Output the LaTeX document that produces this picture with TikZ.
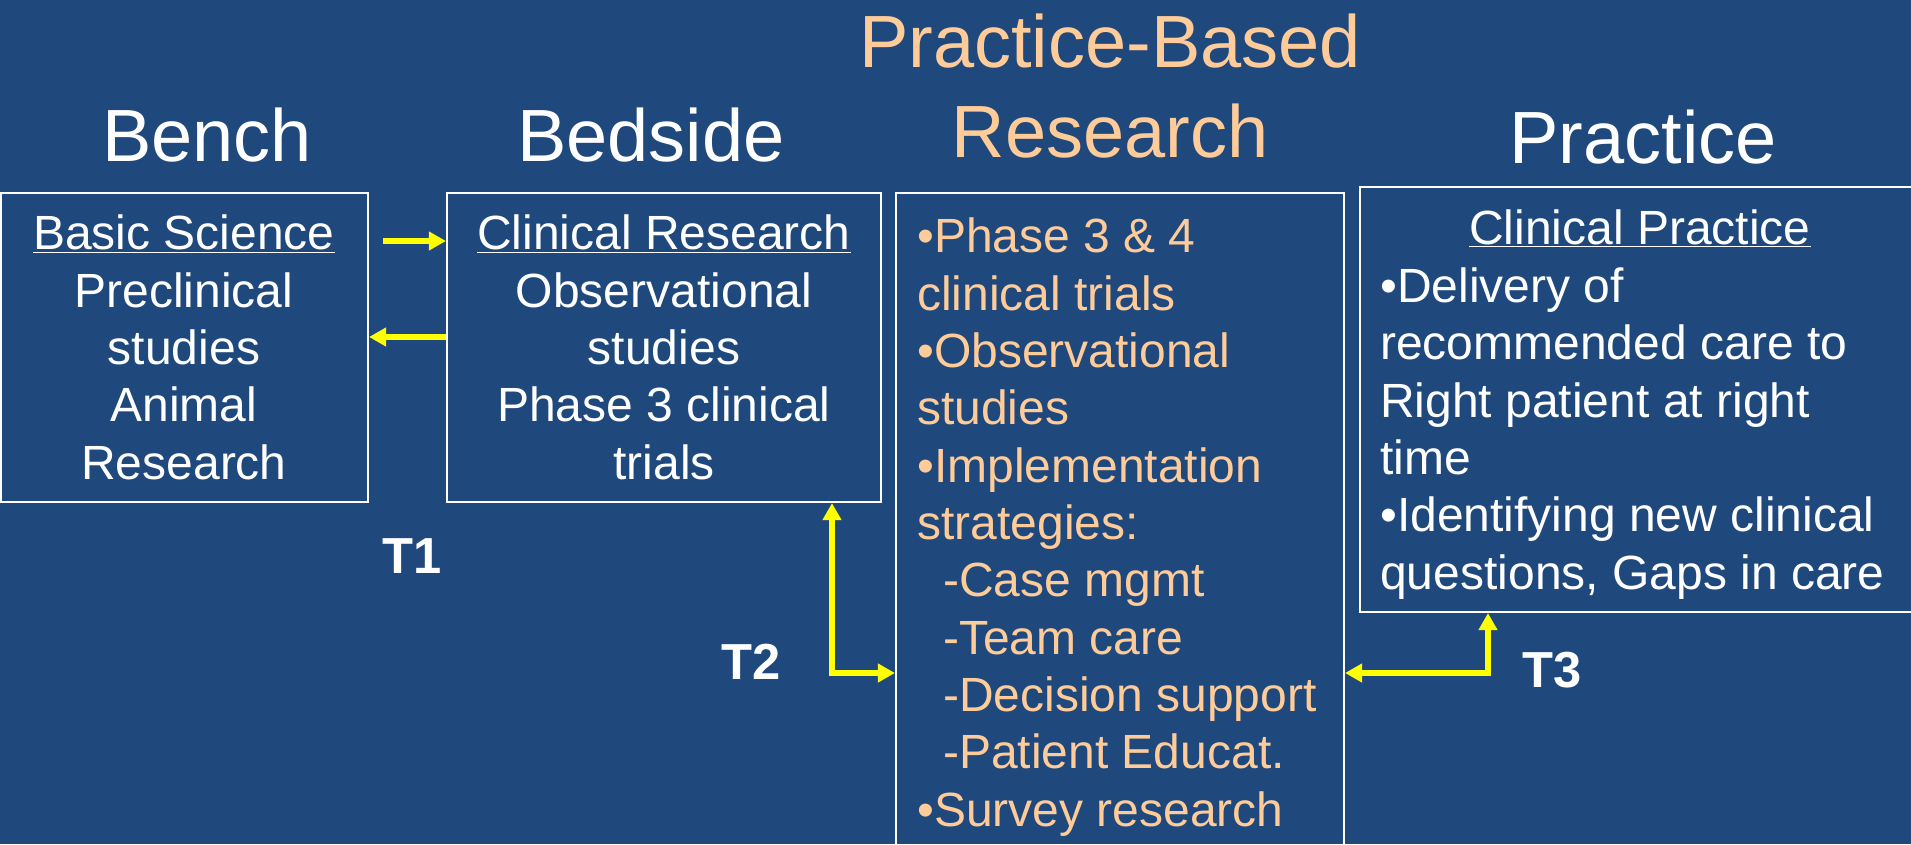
\documentclass[tikz,border=0pt]{standalone}
\usepackage{fontspec}
\setmainfont{Liberation Sans}
\usetikzlibrary{arrows.meta}

\definecolor{slideblue}{RGB}{31,73,125}
\definecolor{peachtext}{RGB}{255,204,153}
\definecolor{arrowyellow}{RGB}{255,255,0}

\tikzset{
  boxframe/.style={draw=white, line width=1.6pt, inner sep=0pt},
  bodytext/.style={inner sep=0pt, font=\fontsize{36}{43}\selectfont},
  headtext/.style={inner sep=0pt, text=white, font=\fontsize{55.5}{67.5}\selectfont},
  tlabel/.style={inner sep=0pt, text=white, font=\fontsize{38}{45}\selectfont\bfseries},
  ytip/.tip={Triangle[length=12.75pt,width=13.5pt]},
  yarrow/.style={draw=arrowyellow, line width=4.5pt, -ytip},
  yarrows/.style={draw=arrowyellow, line width=4.5pt, ytip-ytip},
}

\begin{document}
\begin{tikzpicture}[x=0.75pt,y=0.75pt,yscale=-1,xscale=1]
    \useasboundingbox (0,0) rectangle (1911,844);
    \clip (0,0) rectangle (1911,844);
    \fill [slideblue] (0,0) rectangle (1911,844);

    % Headers
    \draw (207,161) node (benchhead) [headtext, anchor=base] {Bench};
    \draw (651,161) node (bedsidehead) [headtext, anchor=base] {Bedside};
    \draw (1110,157) node (pbrhead) [headtext, anchor=base, align=center, text=peachtext] {Practice-Based\\Research};
    \draw (1643,163) node (practicehead) [headtext, anchor=base] {Practice};

    % Boxes
    \draw (184.5,347.5) node (bench) [boxframe, minimum width=275.25pt, minimum height=231.75pt] {};
    \draw (664,347.5) node (bedside) [boxframe, minimum width=325.5pt, minimum height=231.75pt] {};
    \draw (1120,546.5) node (pbr) [boxframe, minimum width=336pt, minimum height=530.25pt] {};
    \draw (1641,399.5) node (practice) [boxframe, minimum width=421.5pt, minimum height=318.75pt] {};

    % Text Node
    \draw (184,479) node (benchtxt) [bodytext, anchor=base, align=center, text=white] {\underline{Basic Science}\\Preclinical\\studies\\Animal\\Research};
    % Text Node
    \draw (664,479) node (bedsidetxt) [bodytext, anchor=base, align=center, text=white] {\underline{Clinical Research}\\Observational\\studies\\Phase 3 clinical\\trials};
    % Text Node
    \draw (917,826) node (pbrtxt) [bodytext, anchor=base west, align=left, text=peachtext] {•Phase 3 \& 4\\clinical trials\\•Observational\\studies\\•Implementation\\strategies:\\\hspace*{19.5pt}-Case mgmt\\\hspace*{19.5pt}-Team care\\\hspace*{19.5pt}-Decision support\\\hspace*{19.5pt}-Patient Educat.\\•Survey research};
    % Text Node
    \draw (1640,244) node (practicetitle) [bodytext, anchor=base, text=white] {\underline{Clinical Practice}};
    % Text Node
    \draw (1380,589) node (practicetxt) [bodytext, anchor=base west, align=left, text=white] {•Delivery of\\recommended care to\\Right patient at right\\time\\•Identifying new clinical\\questions, Gaps in care};

    % Arrows
    \coordinate (t1tail) at (383,241);
    \coordinate (t1back) at (0,337);
    \coordinate (t2corner) at (832,673);
    \coordinate (t3corner) at (1488,673);
    \draw [yarrow] (t1tail) -- (t1tail -| bedside.west);
    \draw [yarrow] (bedside.west |- t1back) -- (bench.east |- t1back);
    \draw [yarrows] (bedside.south -| t2corner) -- (t2corner) -- (t2corner -| pbr.west);
    \draw [yarrows] (practice.south -| t3corner) -- (t3corner) -- (t3corner -| pbr.east);

    % Labels
    \draw (412,556) node (tone) [tlabel] {T1};
    \draw (751,662) node (ttwo) [tlabel] {T2};
    \draw (1552,670) node (tthree) [tlabel] {T3};

\end{tikzpicture}
\end{document}
